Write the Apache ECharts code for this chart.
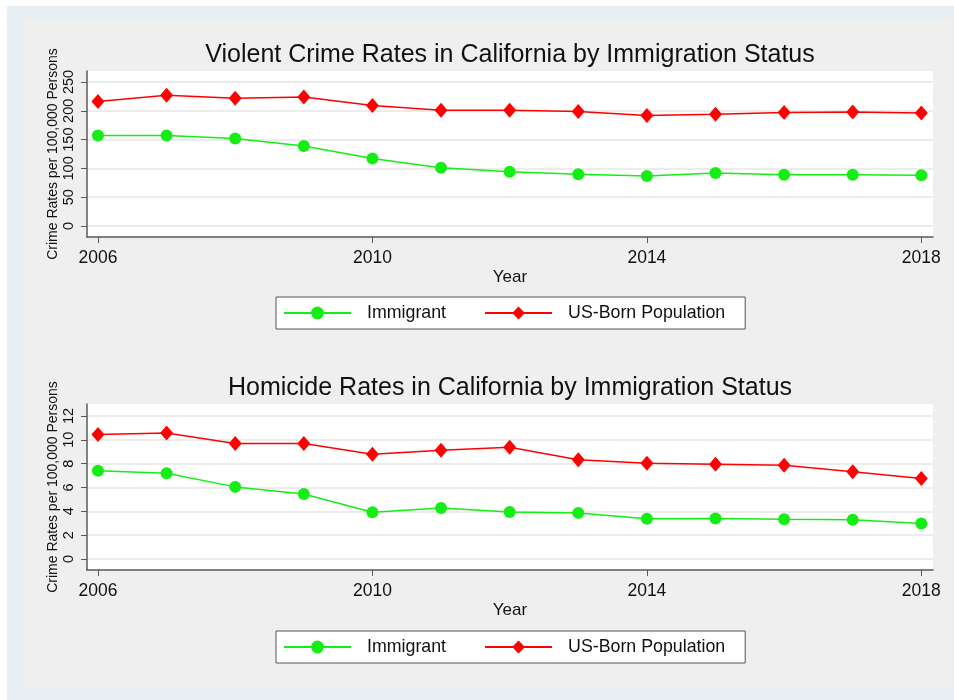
<!DOCTYPE html>
<html>
<head>
<meta charset="utf-8">
<script src="https://cdn.jsdelivr.net/npm/echarts@6/dist/echarts.min.js"></script>
<style>
  html, body { margin: 0; padding: 0; background: #ffffff; }
  #chart { width: 954px; height: 700px; }
</style>
</head>
<body>
<div id="chart"></div>
<script>
// data
const years = [2006, 2007, 2008, 2009, 2010, 2011, 2012, 2013, 2014, 2015, 2016, 2017, 2018];
const xTicks = [2006, 2010, 2014, 2018];

// violent crime, per 100,000
const violentImmigrant = [157, 157, 152, 139, 117, 101, 94, 90, 87, 92, 89, 89, 88];
const violentUSBorn = [216, 227, 222, 224, 209, 201, 201, 199, 192, 194, 197, 198, 196];
const violentTicks = [0, 50, 100, 150, 200, 250];

// homicide, per 100,000
const homicideImmigrant = [7.4, 7.2, 6.05, 5.45, 3.92, 4.28, 3.94, 3.87, 3.38, 3.4, 3.33, 3.3, 2.97];
const homicideUSBorn = [10.45, 10.57, 9.68, 9.68, 8.78, 9.12, 9.37, 8.32, 8.03, 7.95, 7.87, 7.32, 6.75];
const homicideTicks = [0, 2, 4, 6, 8, 10, 12];

const titles = [
  "Violent Crime Rates in California by Immigration Status",
  "Homicide Rates in California by Immigration Status",
];

const FONT = "Liberation Sans, Arial, Helvetica, sans-serif";
const GREEN = "#14ee14";
const RED = "#ff0000";
const AXIS = "#5a5a5a";

const pairs = (vals) => years.map((y, i) => [y, vals[i]]);

const xAxisFor = (gi) => ({
  type: "value",
  gridIndex: gi,
  min: 2005.84,
  max: 2018.17,
  name: "Year",
  nameLocation: "middle",
  nameGap: 32,
  nameMoveOverlap: false,
  nameTextStyle: { fontFamily: FONT, fontSize: 17, color: "#111" },
  axisLine: { show: true, onZero: false, lineStyle: { color: AXIS, width: 1.5 } },
  axisTick: { show: true, length: 6, customValues: xTicks, lineStyle: { color: AXIS } },
  axisLabel: {
    customValues: xTicks,
    formatter: (v) => String(v),
    margin: 12,
    fontFamily: FONT,
    fontSize: 17.5,
    color: "#111",
  },
  splitLine: { show: false },
});

const yAxisFor = (gi, min, max, ticks) => ({
  type: "value",
  gridIndex: gi,
  min: min,
  max: max,
  name: "Crime Rates per 100,000 Persons",
  nameLocation: "middle",
  nameGap: 27,
  nameMoveOverlap: false,
  nameTextStyle: { fontFamily: FONT, fontSize: 14, color: "#111" },
  axisLine: { show: true, onZero: false, lineStyle: { color: AXIS, width: 1.5 } },
  axisTick: { show: true, length: 6, customValues: ticks, lineStyle: { color: AXIS } },
  axisLabel: { customValues: ticks, rotate: 90, margin: 11, fontFamily: FONT, fontSize: 14.5, color: "#111" },
  splitLine: { show: true, lineStyle: { color: "#e6e6e6", width: 1.5 } },
});

const lineSeries = (name, gi, vals, color, symbol, size) => ({
  name: name,
  type: "line",
  xAxisIndex: gi,
  yAxisIndex: gi,
  data: pairs(vals),
  symbol: symbol,
  symbolSize: size,
  itemStyle: { color: color },
  lineStyle: { color: color, width: 1.5 },
  emphasis: { disabled: true },
  z: symbol === "diamond" ? 3 : 2,
});

const legendFor = (top) => ({
  top: top,
  left: 276,
  itemWidth: 67,
  itemHeight: 16,
  itemGap: 38,
  padding: [7, 20, 7, 7],
  backgroundColor: "#ffffff",
  borderColor: "#555",
  borderWidth: 1,
  textStyle: { fontFamily: FONT, fontSize: 17.8, color: "#111", padding: [0, 0, 0, 11] },
  data: ["Immigrant", "US-Born Population"],
});

const titleText = (text, y) => ({
  type: "text",
  x: 510,
  y: y,
  style: {
    text: text,
    fontFamily: FONT,
    fontSize: 25,
    fill: "#111",
    align: "center",
    verticalAlign: "top",
  },
});

const chart = echarts.init(document.getElementById("chart"));
chart.setOption({
  animation: false,
  backgroundColor: "#ffffff",
  graphic: [
    { type: "rect", shape: { x: 7, y: 6, width: 947, height: 694 }, style: { fill: "#e8eff2" }, z: -10 },
    { type: "rect", shape: { x: 23, y: 20, width: 929, height: 668 }, style: { fill: "#efefef" }, z: -9 },
    titleText(titles[0], 43),
    titleText(titles[1], 376),
  ],
  legend: [legendFor(297), legendFor(631)],
  grid: [
    { left: 87, right: 21, top: 71, height: 166, show: true, backgroundColor: "#ffffff", borderWidth: 0 },
    { left: 87, right: 21, top: 404, height: 166, show: true, backgroundColor: "#ffffff", borderWidth: 0 },
  ],
  xAxis: [xAxisFor(0), xAxisFor(1)],
  yAxis: [
    yAxisFor(0, -19.1, 269.1, violentTicks),
    yAxisFor(1, -0.92, 13.0, homicideTicks),
  ],
  series: [
    lineSeries("Immigrant", 0, violentImmigrant, GREEN, "circle", 12),
    lineSeries("US-Born Population", 0, violentUSBorn, RED, "diamond", [13, 15]),
    lineSeries("Immigrant", 1, homicideImmigrant, GREEN, "circle", 12),
    lineSeries("US-Born Population", 1, homicideUSBorn, RED, "diamond", [13, 15]),
  ],
});
</script>
</body>
</html>
